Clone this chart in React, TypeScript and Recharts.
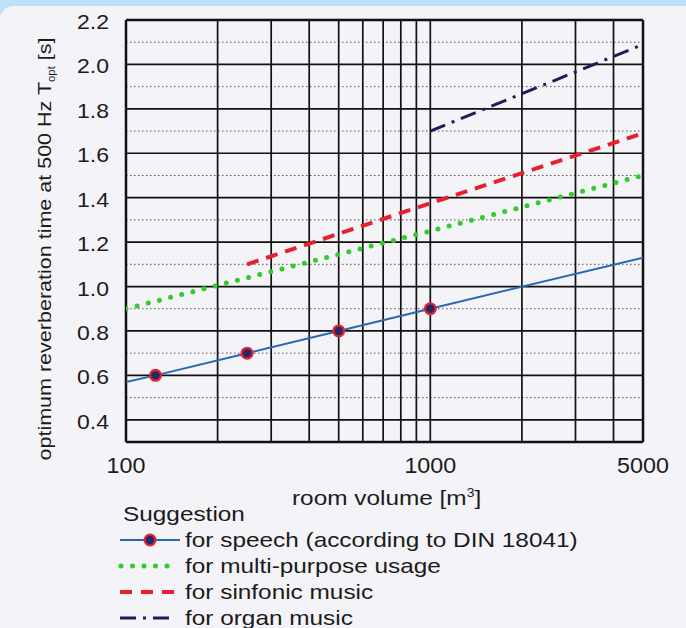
import React from "react";
import { ComposedChart, Line, XAxis, YAxis, ReferenceLine } from "recharts";

const SPEECH_V = [100, 125, 250, 500, 1000, 5000];
const SPEECH_T = [0.57, 0.6, 0.7, 0.8, 0.9, 1.13];
const SPEECH_MARKERS = [125, 250, 500, 1000];
const MULTI_V = [100, 1000, 5000];
const MULTI_T = [0.9, 1.25, 1.5];
const SINF_V = [250, 1000, 5000];
const SINF_T = [1.1, 1.375, 1.69];
const ORGAN_V = [1000, 5000];
const ORGAN_T = [1.7, 2.09];

const X_TICKS = [100, 1000, 5000];
const Y_TICKS = [0.4, 0.6, 0.8, 1.0, 1.2, 1.4, 1.6, 1.8, 2.0, 2.2];
const Y_MINOR = [0.5, 0.7, 0.9, 1.1, 1.3, 1.5, 1.7, 1.9, 2.1];
const X_GRID = [200, 300, 400, 500, 600, 700, 800, 900, 1000, 2000, 3000, 4000];

const BLUE = "#2a68b4";
const GREEN = "#2fcc2a";
const RED = "#e8202c";
const NAVY = "#1c1f55";
const INK = "#1b1b1b";
const PANEL = "#f3f3f8";
const FONT = "'Liberation Sans', Arial, sans-serif";

const zip = (v: number[], t: number[]) => v.map((x, i) => ({ v: x, t: t[i] }));

function Marker({ cx, cy }: { cx: number; cy: number }) {
  return (
    <g>
      <circle cx={cx} cy={cy} r={6.5} fill={RED} />
      <circle cx={cx} cy={cy} r={4.2} fill="#1e2a6e" />
    </g>
  );
}

function speechDot(p: any) {
  if (!SPEECH_MARKERS.includes(p.payload.v)) return <g key={p.index} />;
  return <Marker key={p.index} cx={p.cx} cy={p.cy} />;
}

// stretched tick text, the original lettering is wider than Arial
function XTick({ x, y, payload }: any) {
  return (
    <text transform={`translate(${x},${y}) scale(1.06,1)`} textAnchor="middle" dy="0.75em" fontSize={22} fontFamily={FONT} fill={INK}>
      {payload.value}
    </text>
  );
}

function YTick({ x, y, payload }: any) {
  return (
    <text transform={`translate(${x},${y}) scale(1.15,1)`} textAnchor="end" dy="0.45em" fontSize={20} fontFamily={FONT} fill={INK}>
      {Number(payload.value).toFixed(1)}
    </text>
  );
}

function Wide({ children }: { children: React.ReactNode }) {
  return <span style={{ display: "inline-block", transform: "scaleX(1.16)", transformOrigin: "left center", whiteSpace: "nowrap" }}>{children}</span>;
}

function LegendRow({ kind, label }: { kind: string; label: string }) {
  let sym: React.ReactNode = null;
  if (kind === "speech")
    sym = (
      <>
        <line x1={2} y1={10} x2={62} y2={10} stroke={BLUE} strokeWidth={2} />
        <Marker cx={32} cy={10} />
      </>
    );
  if (kind === "multi")
    sym = <line x1={3} y1={10} x2={60} y2={10} stroke={GREEN} strokeWidth={5} strokeDasharray="0 11.5" strokeLinecap="round" />;
  if (kind === "sinf")
    sym = <line x1={2} y1={10} x2={62} y2={10} stroke={RED} strokeWidth={4} strokeDasharray="12 9" />;
  if (kind === "organ")
    sym = <line x1={2} y1={10} x2={62} y2={10} stroke={NAVY} strokeWidth={3} strokeDasharray="16 7 3 7 16" />;
  return (
    <div style={{ display: "flex", alignItems: "center", height: 26 }}>
      <svg width={64} height={20} style={{ marginRight: 3 }}>{sym}</svg>
      <Wide>{label}</Wide>
    </div>
  );
}

export default function App() {
  return (
    <div style={{ position: "absolute", left: 0, top: 0, width: 686, height: 628, background: "#bfe0fb", overflow: "hidden", fontFamily: FONT, color: INK }}>
      <div style={{ position: "absolute", left: 0, top: 6, width: 686, height: 622, background: PANEL, borderTopLeftRadius: 14 }} />
      <div style={{ position: "absolute", left: 0, top: 0 }}>
        <ComposedChart width={686} height={490} margin={{ top: 20, right: 43, left: 0, bottom: 0 }}>
          <XAxis
            dataKey="v"
            type="number"
            scale="log"
            domain={[100, 5000]}
            ticks={X_TICKS}
            allowDataOverflow
            axisLine={false}
            tickLine={false}
            tickSize={0}
            tickMargin={14}
            height={48}
            tick={<XTick />}
          />
          <YAxis
            dataKey="t"
            type="number"
            domain={[0.3, 2.2]}
            ticks={Y_TICKS}
            allowDataOverflow
            axisLine={false}
            tickLine={false}
            tickSize={0}
            tickMargin={17}
            width={126}
            tick={<YTick />}
          />
          {Y_MINOR.map((y) => (
            <ReferenceLine key={"m" + y} y={y} stroke="#555" strokeWidth={1} strokeDasharray="1.5 2.5" />
          ))}
          {Y_TICKS.map((y) => (
            <ReferenceLine key={"h" + y} y={y} stroke="#111" strokeWidth={1.7} />
          ))}
          {X_GRID.map((x) => (
            <ReferenceLine key={"v" + x} x={x} stroke="#111" strokeWidth={1.7} />
          ))}
          <ReferenceLine x={100} stroke="#111" strokeWidth={2.5} />
          <ReferenceLine x={5000} stroke="#111" strokeWidth={2.5} />
          <ReferenceLine y={0.3} stroke="#111" strokeWidth={2.5} />
          <ReferenceLine y={2.2} stroke="#111" strokeWidth={2.5} />
          <Line data={zip(MULTI_V, MULTI_T)} dataKey="t" stroke={GREEN} strokeWidth={5} strokeDasharray="0 11.5" strokeLinecap="round" dot={false} isAnimationActive={false} />
          <Line data={zip(SINF_V, SINF_T)} dataKey="t" stroke={RED} strokeWidth={4} strokeDasharray="12 8" dot={false} isAnimationActive={false} />
          <Line data={zip(ORGAN_V, ORGAN_T)} dataKey="t" stroke={NAVY} strokeWidth={3} strokeDasharray="16 7 3 7" dot={false} isAnimationActive={false} />
          <Line data={zip(SPEECH_V, SPEECH_T)} dataKey="t" stroke={BLUE} strokeWidth={2} dot={speechDot} isAnimationActive={false} />
        </ComposedChart>
      </div>
      <svg width={80} height={470} style={{ position: "absolute", left: 0, top: 0 }}>
        <text transform="translate(51,249) rotate(-90)" textAnchor="middle" fontSize={19} fontFamily={FONT} fill={INK} textLength={423} lengthAdjust="spacingAndGlyphs">
          optimum reverberation time at 500 Hz T
          <tspan fontSize={10} dy={4}>opt</tspan>
          <tspan dy={-4}> [s]</tspan>
        </text>
      </svg>
      <div style={{ position: "absolute", left: 292, top: 486, fontSize: 21 }}>
        <Wide>
          room volume [m<sup style={{ fontSize: 12 }}>3</sup>]
        </Wide>
      </div>
      <div style={{ position: "absolute", left: 123, top: 502, fontSize: 21 }}>
        <Wide>Suggestion</Wide>
      </div>
      <div style={{ position: "absolute", left: 118, top: 527, fontSize: 21 }}>
        <LegendRow kind="speech" label="for speech (according to DIN 18041)" />
        <LegendRow kind="multi" label="for multi-purpose usage" />
        <LegendRow kind="sinf" label="for sinfonic music" />
        <LegendRow kind="organ" label="for organ music" />
      </div>
    </div>
  );
}
